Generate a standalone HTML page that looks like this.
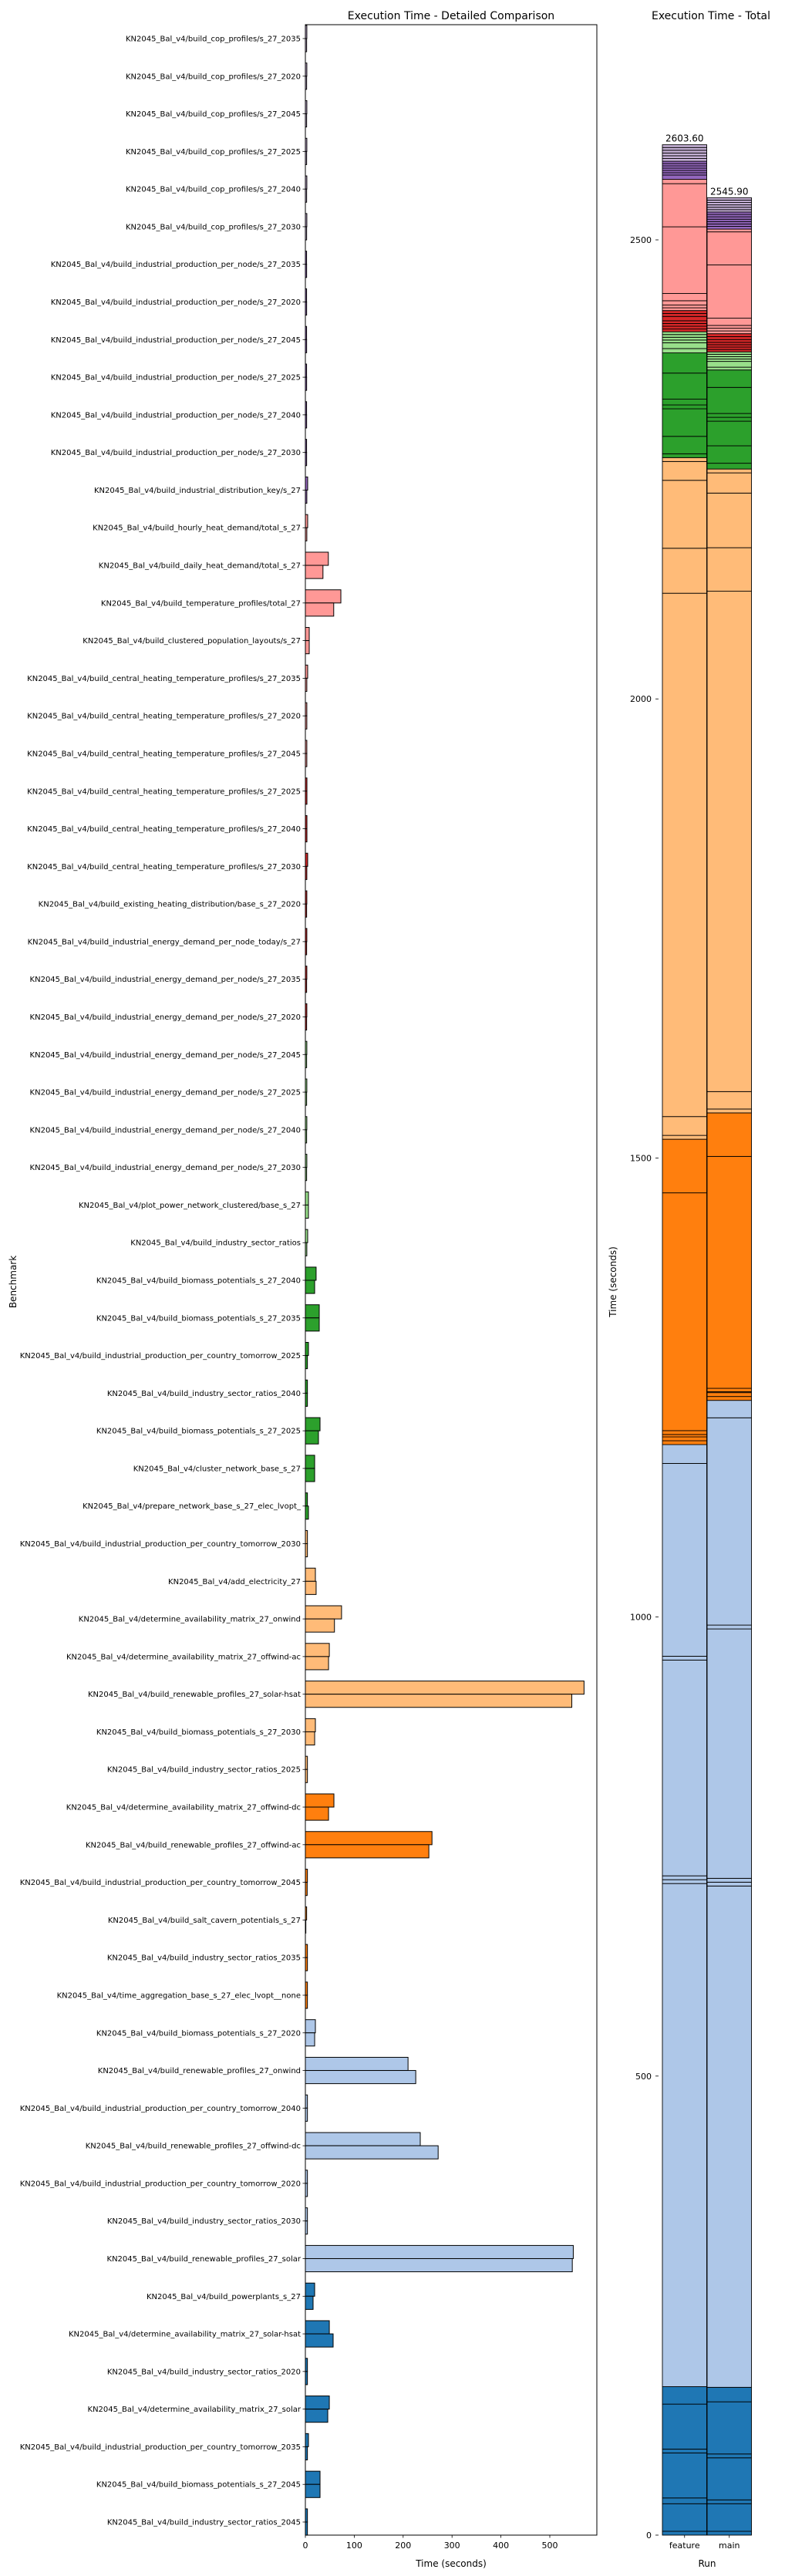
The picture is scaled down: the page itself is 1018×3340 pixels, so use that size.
<!DOCTYPE html>
<html><head><meta charset="utf-8">
<style>
html,body{margin:0;padding:0;background:#fff;}
svg{display:block;font-family:"DejaVu Sans","Liberation Sans",sans-serif;}
</style></head>
<body>
<svg id="chart" xmlns="http://www.w3.org/2000/svg" width="1018" height="3340" viewBox="0 0 1018 3340">
<rect width="1018" height="3340" fill="#fff"/>
<g id="left"></g>
<g id="right"></g>
</svg>
<script>
const categories = [
"KN2045_Bal_v4/build_cop_profiles/s_27_2035","KN2045_Bal_v4/build_cop_profiles/s_27_2020","KN2045_Bal_v4/build_cop_profiles/s_27_2045","KN2045_Bal_v4/build_cop_profiles/s_27_2025","KN2045_Bal_v4/build_cop_profiles/s_27_2040","KN2045_Bal_v4/build_cop_profiles/s_27_2030",
"KN2045_Bal_v4/build_industrial_production_per_node/s_27_2035","KN2045_Bal_v4/build_industrial_production_per_node/s_27_2020","KN2045_Bal_v4/build_industrial_production_per_node/s_27_2045","KN2045_Bal_v4/build_industrial_production_per_node/s_27_2025","KN2045_Bal_v4/build_industrial_production_per_node/s_27_2040","KN2045_Bal_v4/build_industrial_production_per_node/s_27_2030",
"KN2045_Bal_v4/build_industrial_distribution_key/s_27","KN2045_Bal_v4/build_hourly_heat_demand/total_s_27","KN2045_Bal_v4/build_daily_heat_demand/total_s_27","KN2045_Bal_v4/build_temperature_profiles/total_27","KN2045_Bal_v4/build_clustered_population_layouts/s_27",
"KN2045_Bal_v4/build_central_heating_temperature_profiles/s_27_2035","KN2045_Bal_v4/build_central_heating_temperature_profiles/s_27_2020","KN2045_Bal_v4/build_central_heating_temperature_profiles/s_27_2045","KN2045_Bal_v4/build_central_heating_temperature_profiles/s_27_2025","KN2045_Bal_v4/build_central_heating_temperature_profiles/s_27_2040","KN2045_Bal_v4/build_central_heating_temperature_profiles/s_27_2030",
"KN2045_Bal_v4/build_existing_heating_distribution/base_s_27_2020","KN2045_Bal_v4/build_industrial_energy_demand_per_node_today/s_27",
"KN2045_Bal_v4/build_industrial_energy_demand_per_node/s_27_2035","KN2045_Bal_v4/build_industrial_energy_demand_per_node/s_27_2020","KN2045_Bal_v4/build_industrial_energy_demand_per_node/s_27_2045","KN2045_Bal_v4/build_industrial_energy_demand_per_node/s_27_2025","KN2045_Bal_v4/build_industrial_energy_demand_per_node/s_27_2040","KN2045_Bal_v4/build_industrial_energy_demand_per_node/s_27_2030",
"KN2045_Bal_v4/plot_power_network_clustered/base_s_27","KN2045_Bal_v4/build_industry_sector_ratios","KN2045_Bal_v4/build_biomass_potentials_s_27_2040","KN2045_Bal_v4/build_biomass_potentials_s_27_2035","KN2045_Bal_v4/build_industrial_production_per_country_tomorrow_2025","KN2045_Bal_v4/build_industry_sector_ratios_2040","KN2045_Bal_v4/build_biomass_potentials_s_27_2025","KN2045_Bal_v4/cluster_network_base_s_27","KN2045_Bal_v4/prepare_network_base_s_27_elec_lvopt_","KN2045_Bal_v4/build_industrial_production_per_country_tomorrow_2030","KN2045_Bal_v4/add_electricity_27","KN2045_Bal_v4/determine_availability_matrix_27_onwind","KN2045_Bal_v4/determine_availability_matrix_27_offwind-ac","KN2045_Bal_v4/build_renewable_profiles_27_solar-hsat","KN2045_Bal_v4/build_biomass_potentials_s_27_2030","KN2045_Bal_v4/build_industry_sector_ratios_2025","KN2045_Bal_v4/determine_availability_matrix_27_offwind-dc","KN2045_Bal_v4/build_renewable_profiles_27_offwind-ac","KN2045_Bal_v4/build_industrial_production_per_country_tomorrow_2045","KN2045_Bal_v4/build_salt_cavern_potentials_s_27","KN2045_Bal_v4/build_industry_sector_ratios_2035","KN2045_Bal_v4/time_aggregation_base_s_27_elec_lvopt__none","KN2045_Bal_v4/build_biomass_potentials_s_27_2020","KN2045_Bal_v4/build_renewable_profiles_27_onwind","KN2045_Bal_v4/build_industrial_production_per_country_tomorrow_2040","KN2045_Bal_v4/build_renewable_profiles_27_offwind-dc","KN2045_Bal_v4/build_industrial_production_per_country_tomorrow_2020","KN2045_Bal_v4/build_industry_sector_ratios_2030","KN2045_Bal_v4/build_renewable_profiles_27_solar","KN2045_Bal_v4/build_powerplants_s_27","KN2045_Bal_v4/determine_availability_matrix_27_solar-hsat","KN2045_Bal_v4/build_industry_sector_ratios_2020","KN2045_Bal_v4/determine_availability_matrix_27_solar","KN2045_Bal_v4/build_industrial_production_per_country_tomorrow_2035","KN2045_Bal_v4/build_biomass_potentials_s_27_2045","KN2045_Bal_v4/build_industry_sector_ratios_2045"];
const featureTimes = [3,3,3,3,3,3, 2.5,2.5,2.5,2.5,2.5,2.5, 4.7,4.7,47,72.6,7.9, 4.7,3,3,3.2,3.2,4.7, 3,3,3,3,3,3,3,3, 6.3,4.7,22,28.4,6.3,4.2,30,19,4.2,4.2,20.5,74,49,570,20.5,4.2,58.4,259,4.2,2.6,4.2,4.2,20.5,210,4.2,235,4.2,4.2,548,19,49,4.2,49,6.3,30,4.2];
const mainTimes = [2.6,2.6,2.6,2.6,2.6,2.6, 2.6,2.6,2.6,2.6,2.6,2.6, 3,3,36,58,7.9, 3,3,3,3.2,3.2,3, 2.6,2.6,2.6,2.6,2.6,2.6,2.6,2.6, 6.3,3,19,28.4,4.2,4.2,26.8,19,6.3,4.2,22,59.5,47.4,545,19,4.2,47.4,252.6,3.7,1,4.2,4.2,19,225.8,4.2,271.6,4.2,4.2,546,15.8,56.8,4.2,45.8,4.2,30,4.2];
const groupColors = ["#c5b0d5","#9467bd","#ff9896","#d62728","#98df8a","#2ca02c","#ffbb78","#ff7f0e","#aec7e8","#1f77b4"];
const groupSizes = [6,7,7,7,6,7,7,6,7,7];
const xTicks = [0,100,200,300,400,500];
const yTicksTotal = [0,500,1000,1500,2000,2500];
const runs = ["feature","main"];

const NS="http://www.w3.org/2000/svg";
function mk(parent,tag,attrs,text){const e=document.createElementNS(NS,tag);for(const k in attrs)e.setAttribute(k,attrs[k]);if(text!==undefined)e.textContent=text;parent.appendChild(e);return e;}
const rowColor=[];groupSizes.forEach((n,g)=>{for(let i=0;i<n;i++)rowColor.push(groupColors[g]);});

// left chart
const L=document.getElementById('left');
const PL=396,PR=774,PT=32,PB=3287;
const xs=v=>PL+v*0.634;
const nRows=categories.length;
const rowStep=(3270-50)/(nRows-1);
const yc=i=>50+i*rowStep;
const bh=rowStep*0.35;
const title1=mk(L,'text',{x:585,y:25,'text-anchor':'middle','font-size':14,fill:'#000'},'Execution Time - Detailed Comparison');


categories.forEach((c,i)=>{
  const y=yc(i);
  const b1=mk(L,'rect',{x:xs(0),y:y-bh,width:Math.max(0.5,xs(featureTimes[i])-xs(0)),height:bh,fill:rowColor[i],stroke:'#000','stroke-width':1});
  
  
  const b2=mk(L,'rect',{x:xs(0),y:y,width:Math.max(0.5,xs(mainTimes[i])-xs(0)),height:bh,fill:rowColor[i],stroke:'#000','stroke-width':1});
  
  
  mk(L,'line',{x1:PL-3.5,x2:PL,y1:y,y2:y,stroke:'#000','stroke-width':0.8});
  const t=mk(L,'text',{x:PL-6,y:y+3.5,'text-anchor':'end','font-size':10,fill:'#000'},c);
  
  
});
const frame=mk(L,'rect',{x:PL,y:PT,width:PR-PL,height:PB-PT,fill:'none',stroke:'#000','stroke-width':1});


xTicks.forEach(v=>{
  mk(L,'line',{x1:xs(v),x2:xs(v),y1:PB,y2:PB+3.5,stroke:'#000','stroke-width':0.8});
  const t=mk(L,'text',{x:xs(v),y:PB+17,'text-anchor':'middle','font-size':11,fill:'#000'},String(v));
  
  
});
const xl=mk(L,'text',{x:585,y:PB+41,'text-anchor':'middle','font-size':12,fill:'#000'},'Time (seconds)');


const yl=mk(L,'text',{x:0,y:0,'text-anchor':'middle','font-size':12,fill:'#000',transform:'translate(21,1662) rotate(-90)'},'Benchmark');



// right chart
const R=document.getElementById('right');
const RB=3287, ry=v=>RB-v*(3287-311)/2500;
const runX=[859,917], bw=57.5;
const title2=mk(R,'text',{x:922,y:25,'text-anchor':'middle','font-size':14,fill:'#000'},'Execution Time - Total');


[featureTimes,mainTimes].forEach((arr,r)=>{
  let acc=0;
  for(let i=nRows-1;i>=0;i--){
    const v=arr[i];
    const s=mk(R,'rect',{x:runX[r],y:ry(acc+v),width:bw,height:Math.max(0.3,ry(acc)-ry(acc+v)),fill:rowColor[i],stroke:'#000','stroke-width':0.9});
    
    
    acc+=v;
  }
  const lab=mk(R,'text',{x:runX[r]+bw/2,y:ry(acc)-4,'text-anchor':'middle','font-size':12,fill:'#000'},acc.toFixed(2));
  
  
  mk(R,'line',{x1:runX[r]+bw/2,x2:runX[r]+bw/2,y1:RB,y2:RB+3.5,stroke:'#000','stroke-width':0.8});
  const t=mk(R,'text',{x:runX[r]+bw/2,y:RB+17,'text-anchor':'middle','font-size':11,fill:'#000'},runs[r]);
  
  
});
yTicksTotal.forEach(v=>{
  mk(R,'line',{x1:850,x2:854,y1:ry(v),y2:ry(v),stroke:'#000','stroke-width':0.8});
  const t=mk(R,'text',{x:845,y:ry(v)+4,'text-anchor':'end','font-size':11,fill:'#000'},String(v));
  
  
});
const rl=mk(R,'text',{x:917,y:RB+41,'text-anchor':'middle','font-size':12,fill:'#000'},'Run');


const ryl=mk(R,'text',{x:0,y:0,'text-anchor':'middle','font-size':12,fill:'#000',transform:'translate(799,1662) rotate(-90)'},'Time (seconds)');


</script>
</body></html>
